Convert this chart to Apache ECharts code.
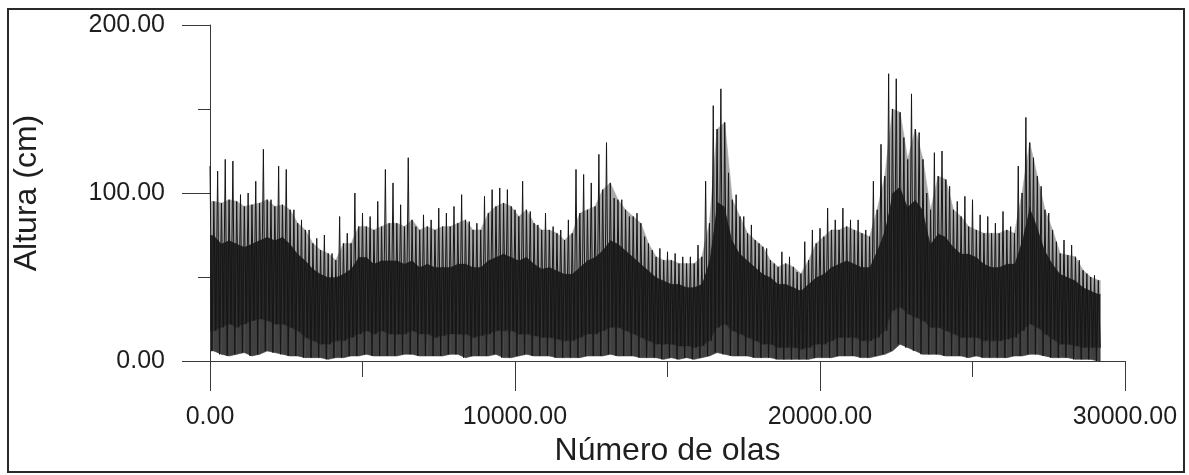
<!DOCTYPE html>
<html>
<head>
<meta charset="utf-8">
<script src="https://cdn.jsdelivr.net/npm/echarts@6/dist/echarts.min.js"></script>
<style>
  html, body { margin: 0; padding: 0; background: #ffffff; }
  #chart { width: 1189px; height: 475px; }
</style>
</head>
<body>
<div id="chart"></div>
<script>
// Wave-height record, summarised in bins of 250 consecutive waves (cm).
// pico: highest wave; cresta: level reached by most of the crests;
// sup / inf: upper and lower edge of the dense body; valle: lowest wave.
const binWidth = 250;

const pico = [
  116,113,120,119,99,100,107,126,96,116,114,90,84,78,73,75,64,86,76,100,88,86,95,
  114,106,93,121,80,87,84,91,88,92,99,83,82,98,102,103,102,90,107,89,81,88,80,78,
  84,114,111,106,123,130,97,96,86,88,74,66,67,65,64,62,62,69,107,152,162,112,99,
  86,81,70,67,58,65,62,53,71,78,79,91,84,91,84,84,78,107,129,171,168,133,159,136,
  100,124,125,104,95,98,96,87,86,82,89,80,116,145,121,104,88,71,72,69,60,52,51
];

const cresta = [
  95,94,96,95,92,93,94,96,92,93,90,82,78,70,66,64,60,70,70,80,80,78,80,
  82,82,80,84,78,80,78,80,80,82,84,78,78,88,92,94,92,86,90,82,78,78,76,72,
  76,88,90,92,102,106,96,90,86,82,70,62,60,60,58,58,58,62,82,138,142,96,86,
  76,72,68,60,56,58,56,52,60,70,74,78,78,80,78,76,74,90,110,150,148,120,138,120,
  90,110,108,90,86,80,78,76,76,76,78,76,100,130,110,90,78,64,63,62,54,50,48
];

const sup = [
  75,70,72,70,68,70,72,74,72,74,70,64,60,55,52,50,50,52,55,62,62,58,60,
  60,60,58,60,56,58,56,56,56,58,58,56,56,60,62,64,62,60,62,58,55,56,54,52,
  52,56,60,62,66,72,70,66,62,58,54,50,48,46,46,44,44,46,60,95,92,72,64,
  60,56,52,50,46,46,44,42,46,50,52,56,58,60,58,56,56,66,78,100,104,92,96,90,
  70,76,74,68,64,64,62,58,56,56,58,58,72,92,80,66,58,52,50,48,44,42,40
];

const inf = [
  18,20,22,20,22,24,25,24,22,22,20,18,14,12,10,10,12,12,14,16,18,16,18,
  16,16,16,18,16,16,14,15,16,16,16,14,15,16,18,18,18,16,16,15,14,14,13,12,
  12,14,16,16,18,20,20,18,16,14,12,10,10,10,9,9,8,9,12,20,22,18,16,
  14,12,10,10,8,8,8,7,8,10,10,12,14,14,14,12,12,14,18,30,32,28,26,24,
  20,20,18,16,14,14,14,12,12,12,13,14,18,22,20,16,13,10,10,9,8,8,8
];

const valle = [
  6,4,3,4,5,3,4,6,5,4,3,3,2,2,2,1,2,2,3,3,4,3,3,
  3,3,4,4,3,3,3,3,4,4,2,3,3,3,4,2,2,3,4,3,3,3,2,2,
  2,2,3,3,3,4,3,3,3,2,2,2,1,2,1,2,1,2,3,5,4,3,3,
  3,2,2,2,1,1,1,1,1,2,2,2,3,3,3,2,2,3,4,6,10,8,6,4,
  4,4,3,3,3,2,3,2,2,2,2,3,3,4,4,3,2,2,2,1,1,1,0
];

const nBins = pico.length;
const lastX = (nBins - 1) * binWidth + binWidth * 0.75;

// Trace runs through each bin: high, low, crest level, lower body.
const trace = [];
for (let i = 0; i < nBins; i++) {
  const x0 = i * binWidth;
  trace.push([x0, pico[i]]);
  trace.push([x0 + binWidth * 0.25, valle[i]]);
  trace.push([x0 + binWidth * 0.5, cresta[i]]);
  trace.push([x0 + binWidth * 0.75, inf[i]]);
}

// Filled body between neighbouring bin centres (edges held at the first / last bin).
// [xa, xb, valleA, infA, supA, crestaA, valleB, infB, supB, crestaB]
const centres = [0];
for (let i = 0; i < nBins; i++) centres.push(i * binWidth + binWidth * 0.5);
centres.push(lastX);
const binOf = k => Math.min(Math.max(k - 1, 0), nBins - 1);
const bodySegments = [];
for (let k = 0; k < centres.length - 1; k++) {
  const a = binOf(k), b = binOf(k + 1);
  bodySegments.push([
    centres[k], centres[k + 1],
    valle[a], inf[a], sup[a], cresta[a],
    valle[b], inf[b], sup[b], cresta[b]
  ]);
}

const bandColours = ['#404040', '#262626', '#a8a8a8'];

function renderBody(params, api) {
  const xa = api.value(0), xb = api.value(1);
  const c = (x, y) => api.coord([x, y]);
  const children = [];
  for (let j = 0; j < 3; j++) {
    const pts = [
      c(xa, api.value(2 + j)), c(xa, api.value(3 + j)),
      c(xb, api.value(7 + j)), c(xb, api.value(6 + j))
    ];
    children.push({
      type: 'polygon',
      shape: { points: pts },
      style: { fill: bandColours[j], stroke: bandColours[j], lineWidth: 0.6 }
    });
  }
  return { type: 'group', children };
}

const chart = echarts.init(document.getElementById('chart'), null, { renderer: 'canvas' });
const axisColor = '#3a3a3a';
const textColor = '#1e1e1e';
const font = 'Liberation Sans, Arial, Helvetica, sans-serif';

chart.setOption({
  animation: false,
  backgroundColor: '#ffffff',
  grid: { left: 210, right: 64, top: 25, bottom: 114, containLabel: false },
  graphic: [{
    type: 'rect',
    shape: { x: 8, y: 9, width: 1176, height: 463 },
    style: { fill: 'none', stroke: '#2a2a2a', lineWidth: 2 },
    silent: true
  }],
  xAxis: {
    type: 'value',
    min: 0, max: 30000, interval: 10000,
    name: 'Número de olas',
    nameLocation: 'middle',
    nameGap: 73,
    nameTextStyle: { fontFamily: font, fontSize: 32, color: textColor },
    axisLine: { show: true, onZero: false, lineStyle: { color: axisColor, width: 1 } },
    axisTick: { show: true, inside: false, length: 30, lineStyle: { color: axisColor, width: 1 } },
    minorTick: { show: true, splitNumber: 2, length: 16, lineStyle: { color: axisColor, width: 1 } },
    splitLine: { show: false },
    minorSplitLine: { show: false },
    axisLabel: {
      margin: 44, fontFamily: font, fontSize: 25, color: textColor,
      formatter: v => v.toFixed(2)
    }
  },
  yAxis: {
    type: 'value',
    min: 0, max: 200, interval: 100,
    name: 'Altura (cm)',
    nameLocation: 'middle',
    nameGap: 167,
    nameTextStyle: { fontFamily: font, fontSize: 32, color: textColor },
    axisLine: { show: true, lineStyle: { color: axisColor, width: 1 } },
    axisTick: { show: true, inside: false, length: 28, lineStyle: { color: axisColor, width: 1 } },
    minorTick: { show: true, splitNumber: 2, length: 12, lineStyle: { color: axisColor, width: 1 } },
    splitLine: { show: false },
    minorSplitLine: { show: false },
    axisLabel: {
      margin: 45, fontFamily: font, fontSize: 25, color: textColor,
      formatter: v => v.toFixed(2)
    }
  },
  series: [
    {
      type: 'custom',
      data: bodySegments,
      renderItem: renderBody,
      encode: { x: [0, 1], y: [2, 5, 9] },
      silent: true,
      clip: true,
      z: 1
    },
    {
      type: 'line',
      data: trace,
      symbol: 'none',
      sampling: null,
      lineStyle: { color: '#161616', width: 1 },
      emphasis: { disabled: true },
      z: 2
    }
  ]
});
</script>
</body>
</html>
